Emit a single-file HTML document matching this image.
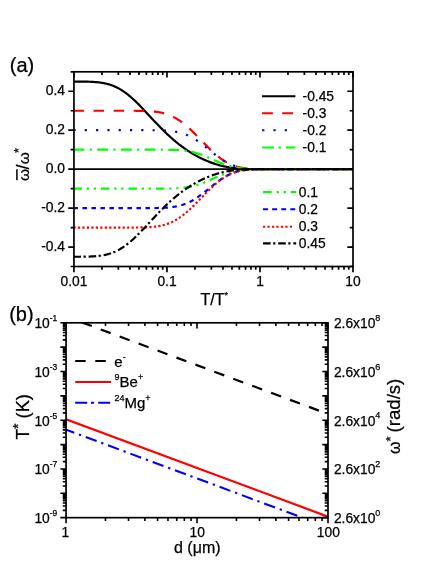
<!DOCTYPE html>
<html><head><meta charset="utf-8"><title>figure</title>
<style>html,body{margin:0;padding:0;background:#fff}svg{display:block;will-change:transform;transform:translateZ(0)}text{font-family:"Liberation Sans", sans-serif;fill:#000;stroke:#000;stroke-width:0.25px}</style></head><body>
<svg width="436" height="564" viewBox="0 0 436 564">
<rect width="436" height="564" fill="#fff"/>
<clipPath id="ca"><rect x="73.95" y="71.8" width="279.05" height="194.7"/></clipPath>
<g clip-path="url(#ca)" fill="none">
<path d="M73.95,81.54 L74.65,81.55 L75.35,81.55 L76.04,81.55 L76.74,81.55 L77.44,81.56 L78.14,81.56 L78.83,81.56 L79.53,81.57 L80.23,81.57 L80.93,81.58 L81.62,81.58 L82.32,81.59 L83.02,81.60 L83.72,81.61 L84.41,81.62 L85.11,81.63 L85.81,81.65 L86.51,81.66 L87.20,81.68 L87.90,81.70 L88.60,81.72 L89.30,81.74 L90.00,81.77 L90.69,81.80 L91.39,81.83 L92.09,81.86 L92.79,81.90 L93.48,81.94 L94.18,81.99 L94.88,82.04 L95.58,82.09 L96.27,82.15 L96.97,82.21 L97.67,82.28 L98.37,82.36 L99.06,82.44 L99.76,82.52 L100.46,82.62 L101.16,82.72 L101.86,82.82 L102.55,82.94 L103.25,83.06 L103.95,83.19 L104.65,83.33 L105.34,83.48 L106.04,83.64 L106.74,83.80 L107.44,83.98 L108.13,84.17 L108.83,84.36 L109.53,84.57 L110.23,84.79 L110.92,85.02 L111.62,85.27 L112.32,85.52 L113.02,85.79 L113.71,86.07 L114.41,86.36 L115.11,86.66 L115.81,86.98 L116.51,87.31 L117.20,87.66 L117.90,88.01 L118.60,88.39 L119.30,88.77 L119.99,89.17 L120.69,89.58 L121.39,90.01 L122.09,90.45 L122.78,90.90 L123.48,91.36 L124.18,91.84 L124.88,92.34 L125.57,92.84 L126.27,93.36 L126.97,93.89 L127.67,94.44 L128.36,94.99 L129.06,95.56 L129.76,96.14 L130.46,96.73 L131.16,97.34 L131.85,97.95 L132.55,98.58 L133.25,99.21 L133.95,99.86 L134.64,100.51 L135.34,101.17 L136.04,101.84 L136.74,102.52 L137.43,103.21 L138.13,103.90 L138.83,104.61 L139.53,105.31 L140.22,106.03 L140.92,106.75 L141.62,107.47 L142.32,108.20 L143.01,108.93 L143.71,109.67 L144.41,110.41 L145.11,111.16 L145.81,111.90 L146.50,112.65 L147.20,113.40 L147.90,114.15 L148.60,114.90 L149.29,115.66 L149.99,116.41 L150.69,117.16 L151.39,117.91 L152.08,118.67 L152.78,119.41 L153.48,120.16 L154.18,120.91 L154.87,121.65 L155.57,122.39 L156.27,123.13 L156.97,123.86 L157.66,124.59 L158.36,125.32 L159.06,126.05 L159.76,126.76 L160.46,127.48 L161.15,128.19 L161.85,128.89 L162.55,129.59 L163.25,130.29 L163.94,130.98 L164.64,131.66 L165.34,132.34 L166.04,133.01 L166.73,133.68 L167.43,134.34 L168.13,134.99 L168.83,135.64 L169.52,136.28 L170.22,136.91 L170.92,137.54 L171.62,138.16 L172.32,138.78 L173.01,139.39 L173.71,139.99 L174.41,140.58 L175.11,141.17 L175.80,141.75 L176.50,142.32 L177.20,142.89 L177.90,143.45 L178.59,144.00 L179.29,144.55 L179.99,145.09 L180.69,145.62 L181.38,146.15 L182.08,146.66 L182.78,147.18 L183.48,147.68 L184.17,148.18 L184.87,148.67 L185.57,149.15 L186.27,149.63 L186.97,150.10 L187.66,150.56 L188.36,151.02 L189.06,151.47 L189.76,151.92 L190.45,152.35 L191.15,152.79 L191.85,153.21 L192.55,153.63 L193.24,154.04 L193.94,154.45 L194.64,154.85 L195.34,155.24 L196.03,155.63 L196.73,156.01 L197.43,156.38 L198.13,156.75 L198.82,157.12 L199.52,157.47 L200.22,157.82 L200.92,158.17 L201.62,158.51 L202.31,158.84 L203.01,159.17 L203.71,159.49 L204.41,159.81 L205.10,160.12 L205.80,160.42 L206.50,160.72 L207.20,161.02 L207.89,161.30 L208.59,161.58 L209.29,161.86 L209.99,162.13 L210.68,162.39 L211.38,162.65 L212.08,162.91 L212.78,163.15 L213.48,163.40 L214.17,163.63 L214.87,163.86 L215.57,164.09 L216.27,164.31 L216.96,164.52 L217.66,164.73 L218.36,164.93 L219.06,165.12 L219.75,165.32 L220.45,165.50 L221.15,165.68 L221.85,165.85 L222.54,166.02 L223.24,166.18 L223.94,166.34 L224.64,166.49 L225.33,166.64 L226.03,166.78 L226.73,166.92 L227.43,167.05 L228.13,167.17 L228.82,167.29 L229.52,167.41 L230.22,167.52 L230.92,167.62 L231.61,167.72 L232.31,167.82 L233.01,167.91 L233.71,167.99 L234.40,168.08 L235.10,168.15 L235.80,168.23 L236.50,168.30 L237.19,168.36 L237.89,168.42 L238.59,168.48 L239.29,168.53 L239.98,168.59 L240.68,168.63 L241.38,168.68 L242.08,168.72 L242.78,168.76 L243.47,168.79 L244.17,168.83 L244.87,168.86 L245.57,168.88 L246.26,168.91 L246.96,168.93 L247.66,168.96 L248.36,168.98 L249.05,169.00 L249.75,169.01 L250.45,169.03 L251.15,169.04 L251.84,169.05 L252.54,169.06 L253.24,169.07 L253.94,169.08 L254.63,169.09 L255.33,169.10 L256.03,169.11 L256.73,169.11 L257.43,169.12 L258.12,169.12 L258.82,169.12 L259.52,169.13 L260.22,169.13 L260.91,169.13 L261.61,169.14 L262.31,169.14 L263.01,169.14 L263.70,169.14 L264.40,169.14 L265.10,169.14 L265.80,169.15 L266.49,169.15 L267.19,169.15 L267.89,169.15 L268.59,169.15 L269.29,169.15 L269.98,169.15 L270.68,169.15 L271.38,169.15 L272.08,169.15 L272.77,169.15 L273.47,169.15 L274.17,169.15 L274.87,169.15 L275.56,169.15 L276.26,169.15 L276.96,169.15 L277.66,169.15 L278.35,169.15 L279.05,169.15 L279.75,169.15 L280.45,169.15 L281.14,169.15 L281.84,169.15 L282.54,169.15 L283.24,169.15 L283.94,169.15 L284.63,169.15 L285.33,169.15 L286.03,169.15 L286.73,169.15 L287.42,169.15 L288.12,169.15 L288.82,169.15 L289.52,169.15 L290.21,169.15 L290.91,169.15 L291.61,169.15 L292.31,169.15 L293.00,169.15 L293.70,169.15 L294.40,169.15 L295.10,169.15 L295.79,169.15 L296.49,169.15 L297.19,169.15 L297.89,169.15 L298.59,169.15 L299.28,169.15 L299.98,169.15 L300.68,169.15 L301.38,169.15 L302.07,169.15 L302.77,169.15 L303.47,169.15 L304.17,169.15 L304.86,169.15 L305.56,169.15 L306.26,169.15 L306.96,169.15 L307.65,169.15 L308.35,169.15 L309.05,169.15 L309.75,169.15 L310.44,169.15 L311.14,169.15 L311.84,169.15 L312.54,169.15 L313.24,169.15 L313.93,169.15 L314.63,169.15 L315.33,169.15 L316.03,169.15 L316.72,169.15 L317.42,169.15 L318.12,169.15 L318.82,169.15 L319.51,169.15 L320.21,169.15 L320.91,169.15 L321.61,169.15 L322.30,169.15 L323.00,169.15 L323.70,169.15 L324.40,169.15 L325.10,169.15 L325.79,169.15 L326.49,169.15 L327.19,169.15 L327.89,169.15 L328.58,169.15 L329.28,169.15 L329.98,169.15 L330.68,169.15 L331.37,169.15 L332.07,169.15 L332.77,169.15 L333.47,169.15 L334.16,169.15 L334.86,169.15 L335.56,169.15 L336.26,169.15 L336.95,169.15 L337.65,169.15 L338.35,169.15 L339.05,169.15 L339.75,169.15 L340.44,169.15 L341.14,169.15 L341.84,169.15 L342.54,169.15 L343.23,169.15 L343.93,169.15 L344.63,169.15 L345.33,169.15 L346.02,169.15 L346.72,169.15 L347.42,169.15 L348.12,169.15 L348.81,169.15 L349.51,169.15 L350.21,169.15 L350.91,169.15 L351.60,169.15 L352.30,169.15 L353.00,169.15" stroke="#000" stroke-width="2.2" stroke-dashoffset="0.5"/>
<path d="M73.95,110.74 L74.65,110.74 L75.35,110.74 L76.04,110.74 L76.74,110.74 L77.44,110.74 L78.14,110.74 L78.83,110.74 L79.53,110.74 L80.23,110.74 L80.93,110.74 L81.62,110.74 L82.32,110.74 L83.02,110.74 L83.72,110.74 L84.41,110.74 L85.11,110.74 L85.81,110.74 L86.51,110.74 L87.20,110.74 L87.90,110.74 L88.60,110.74 L89.30,110.74 L90.00,110.74 L90.69,110.74 L91.39,110.74 L92.09,110.74 L92.79,110.74 L93.48,110.74 L94.18,110.74 L94.88,110.74 L95.58,110.74 L96.27,110.74 L96.97,110.74 L97.67,110.74 L98.37,110.74 L99.06,110.74 L99.76,110.74 L100.46,110.74 L101.16,110.74 L101.86,110.74 L102.55,110.74 L103.25,110.74 L103.95,110.74 L104.65,110.74 L105.34,110.74 L106.04,110.74 L106.74,110.74 L107.44,110.74 L108.13,110.74 L108.83,110.74 L109.53,110.74 L110.23,110.74 L110.92,110.74 L111.62,110.74 L112.32,110.74 L113.02,110.74 L113.71,110.74 L114.41,110.74 L115.11,110.74 L115.81,110.74 L116.51,110.74 L117.20,110.74 L117.90,110.74 L118.60,110.74 L119.30,110.74 L119.99,110.74 L120.69,110.74 L121.39,110.74 L122.09,110.74 L122.78,110.74 L123.48,110.74 L124.18,110.74 L124.88,110.74 L125.57,110.74 L126.27,110.74 L126.97,110.74 L127.67,110.74 L128.36,110.75 L129.06,110.75 L129.76,110.75 L130.46,110.75 L131.16,110.75 L131.85,110.75 L132.55,110.76 L133.25,110.76 L133.95,110.76 L134.64,110.77 L135.34,110.77 L136.04,110.78 L136.74,110.78 L137.43,110.79 L138.13,110.80 L138.83,110.80 L139.53,110.81 L140.22,110.82 L140.92,110.84 L141.62,110.85 L142.32,110.86 L143.01,110.88 L143.71,110.90 L144.41,110.92 L145.11,110.94 L145.81,110.97 L146.50,110.99 L147.20,111.03 L147.90,111.06 L148.60,111.10 L149.29,111.14 L149.99,111.18 L150.69,111.23 L151.39,111.28 L152.08,111.34 L152.78,111.40 L153.48,111.47 L154.18,111.54 L154.87,111.62 L155.57,111.70 L156.27,111.79 L156.97,111.89 L157.66,112.00 L158.36,112.11 L159.06,112.23 L159.76,112.36 L160.46,112.50 L161.15,112.64 L161.85,112.80 L162.55,112.96 L163.25,113.13 L163.94,113.32 L164.64,113.51 L165.34,113.72 L166.04,113.94 L166.73,114.16 L167.43,114.40 L168.13,114.65 L168.83,114.92 L169.52,115.19 L170.22,115.48 L170.92,115.78 L171.62,116.10 L172.32,116.42 L173.01,116.77 L173.71,117.12 L174.41,117.49 L175.11,117.87 L175.80,118.26 L176.50,118.67 L177.20,119.09 L177.90,119.53 L178.59,119.98 L179.29,120.44 L179.99,120.91 L180.69,121.40 L181.38,121.91 L182.08,122.42 L182.78,122.95 L183.48,123.49 L184.17,124.04 L184.87,124.60 L185.57,125.18 L186.27,125.77 L186.97,126.37 L187.66,126.97 L188.36,127.59 L189.06,128.22 L189.76,128.86 L190.45,129.51 L191.15,130.16 L191.85,130.83 L192.55,131.50 L193.24,132.18 L193.94,132.87 L194.64,133.56 L195.34,134.25 L196.03,134.96 L196.73,135.66 L197.43,136.37 L198.13,137.09 L198.82,137.81 L199.52,138.53 L200.22,139.25 L200.92,139.97 L201.62,140.69 L202.31,141.41 L203.01,142.13 L203.71,142.85 L204.41,143.57 L205.10,144.29 L205.80,145.00 L206.50,145.71 L207.20,146.41 L207.89,147.11 L208.59,147.81 L209.29,148.50 L209.99,149.18 L210.68,149.85 L211.38,150.52 L212.08,151.18 L212.78,151.83 L213.48,152.47 L214.17,153.10 L214.87,153.72 L215.57,154.33 L216.27,154.93 L216.96,155.52 L217.66,156.09 L218.36,156.66 L219.06,157.21 L219.75,157.75 L220.45,158.28 L221.15,158.79 L221.85,159.29 L222.54,159.77 L223.24,160.24 L223.94,160.70 L224.64,161.15 L225.33,161.57 L226.03,161.99 L226.73,162.39 L227.43,162.78 L228.13,163.15 L228.82,163.51 L229.52,163.85 L230.22,164.18 L230.92,164.49 L231.61,164.79 L232.31,165.08 L233.01,165.36 L233.71,165.62 L234.40,165.86 L235.10,166.10 L235.80,166.32 L236.50,166.53 L237.19,166.73 L237.89,166.92 L238.59,167.10 L239.29,167.26 L239.98,167.42 L240.68,167.56 L241.38,167.70 L242.08,167.83 L242.78,167.94 L243.47,168.05 L244.17,168.15 L244.87,168.25 L245.57,168.33 L246.26,168.41 L246.96,168.49 L247.66,168.56 L248.36,168.62 L249.05,168.67 L249.75,168.72 L250.45,168.77 L251.15,168.81 L251.84,168.85 L252.54,168.89 L253.24,168.92 L253.94,168.95 L254.63,168.97 L255.33,168.99 L256.03,169.01 L256.73,169.03 L257.43,169.05 L258.12,169.06 L258.82,169.07 L259.52,169.08 L260.22,169.09 L260.91,169.10 L261.61,169.11 L262.31,169.11 L263.01,169.12 L263.70,169.12 L264.40,169.13 L265.10,169.13 L265.80,169.13 L266.49,169.14 L267.19,169.14 L267.89,169.14 L268.59,169.14 L269.29,169.14 L269.98,169.15 L270.68,169.15 L271.38,169.15 L272.08,169.15 L272.77,169.15 L273.47,169.15 L274.17,169.15 L274.87,169.15 L275.56,169.15 L276.26,169.15 L276.96,169.15 L277.66,169.15 L278.35,169.15 L279.05,169.15 L279.75,169.15 L280.45,169.15 L281.14,169.15 L281.84,169.15 L282.54,169.15 L283.24,169.15 L283.94,169.15 L284.63,169.15 L285.33,169.15 L286.03,169.15 L286.73,169.15 L287.42,169.15 L288.12,169.15 L288.82,169.15 L289.52,169.15 L290.21,169.15 L290.91,169.15 L291.61,169.15 L292.31,169.15 L293.00,169.15 L293.70,169.15 L294.40,169.15 L295.10,169.15 L295.79,169.15 L296.49,169.15 L297.19,169.15 L297.89,169.15 L298.59,169.15 L299.28,169.15 L299.98,169.15 L300.68,169.15 L301.38,169.15 L302.07,169.15 L302.77,169.15 L303.47,169.15 L304.17,169.15 L304.86,169.15 L305.56,169.15 L306.26,169.15 L306.96,169.15 L307.65,169.15 L308.35,169.15 L309.05,169.15 L309.75,169.15 L310.44,169.15 L311.14,169.15 L311.84,169.15 L312.54,169.15 L313.24,169.15 L313.93,169.15 L314.63,169.15 L315.33,169.15 L316.03,169.15 L316.72,169.15 L317.42,169.15 L318.12,169.15 L318.82,169.15 L319.51,169.15 L320.21,169.15 L320.91,169.15 L321.61,169.15 L322.30,169.15 L323.00,169.15 L323.70,169.15 L324.40,169.15 L325.10,169.15 L325.79,169.15 L326.49,169.15 L327.19,169.15 L327.89,169.15 L328.58,169.15 L329.28,169.15 L329.98,169.15 L330.68,169.15 L331.37,169.15 L332.07,169.15 L332.77,169.15 L333.47,169.15 L334.16,169.15 L334.86,169.15 L335.56,169.15 L336.26,169.15 L336.95,169.15 L337.65,169.15 L338.35,169.15 L339.05,169.15 L339.75,169.15 L340.44,169.15 L341.14,169.15 L341.84,169.15 L342.54,169.15 L343.23,169.15 L343.93,169.15 L344.63,169.15 L345.33,169.15 L346.02,169.15 L346.72,169.15 L347.42,169.15 L348.12,169.15 L348.81,169.15 L349.51,169.15 L350.21,169.15 L350.91,169.15 L351.60,169.15 L352.30,169.15 L353.00,169.15" stroke="#f00" stroke-width="2.2" stroke-dasharray="10.5 9.6" stroke-dashoffset="0.5"/>
<path d="M73.95,130.21 L74.65,130.21 L75.35,130.21 L76.04,130.21 L76.74,130.21 L77.44,130.21 L78.14,130.21 L78.83,130.21 L79.53,130.21 L80.23,130.21 L80.93,130.21 L81.62,130.21 L82.32,130.21 L83.02,130.21 L83.72,130.21 L84.41,130.21 L85.11,130.21 L85.81,130.21 L86.51,130.21 L87.20,130.21 L87.90,130.21 L88.60,130.21 L89.30,130.21 L90.00,130.21 L90.69,130.21 L91.39,130.21 L92.09,130.21 L92.79,130.21 L93.48,130.21 L94.18,130.21 L94.88,130.21 L95.58,130.21 L96.27,130.21 L96.97,130.21 L97.67,130.21 L98.37,130.21 L99.06,130.21 L99.76,130.21 L100.46,130.21 L101.16,130.21 L101.86,130.21 L102.55,130.21 L103.25,130.21 L103.95,130.21 L104.65,130.21 L105.34,130.21 L106.04,130.21 L106.74,130.21 L107.44,130.21 L108.13,130.21 L108.83,130.21 L109.53,130.21 L110.23,130.21 L110.92,130.21 L111.62,130.21 L112.32,130.21 L113.02,130.21 L113.71,130.21 L114.41,130.21 L115.11,130.21 L115.81,130.21 L116.51,130.21 L117.20,130.21 L117.90,130.21 L118.60,130.21 L119.30,130.21 L119.99,130.21 L120.69,130.21 L121.39,130.21 L122.09,130.21 L122.78,130.21 L123.48,130.21 L124.18,130.21 L124.88,130.21 L125.57,130.21 L126.27,130.21 L126.97,130.21 L127.67,130.21 L128.36,130.21 L129.06,130.21 L129.76,130.21 L130.46,130.21 L131.16,130.21 L131.85,130.21 L132.55,130.21 L133.25,130.21 L133.95,130.21 L134.64,130.21 L135.34,130.21 L136.04,130.21 L136.74,130.21 L137.43,130.21 L138.13,130.21 L138.83,130.21 L139.53,130.21 L140.22,130.21 L140.92,130.21 L141.62,130.21 L142.32,130.21 L143.01,130.21 L143.71,130.21 L144.41,130.22 L145.11,130.22 L145.81,130.22 L146.50,130.22 L147.20,130.22 L147.90,130.22 L148.60,130.23 L149.29,130.23 L149.99,130.23 L150.69,130.23 L151.39,130.24 L152.08,130.24 L152.78,130.25 L153.48,130.25 L154.18,130.26 L154.87,130.27 L155.57,130.28 L156.27,130.29 L156.97,130.30 L157.66,130.31 L158.36,130.33 L159.06,130.34 L159.76,130.36 L160.46,130.38 L161.15,130.40 L161.85,130.42 L162.55,130.45 L163.25,130.48 L163.94,130.51 L164.64,130.55 L165.34,130.59 L166.04,130.63 L166.73,130.67 L167.43,130.73 L168.13,130.78 L168.83,130.84 L169.52,130.90 L170.22,130.97 L170.92,131.05 L171.62,131.13 L172.32,131.22 L173.01,131.31 L173.71,131.42 L174.41,131.52 L175.11,131.64 L175.80,131.76 L176.50,131.90 L177.20,132.04 L177.90,132.19 L178.59,132.35 L179.29,132.51 L179.99,132.69 L180.69,132.88 L181.38,133.08 L182.08,133.29 L182.78,133.51 L183.48,133.74 L184.17,133.98 L184.87,134.24 L185.57,134.50 L186.27,134.78 L186.97,135.07 L187.66,135.37 L188.36,135.69 L189.06,136.01 L189.76,136.35 L190.45,136.70 L191.15,137.07 L191.85,137.44 L192.55,137.83 L193.24,138.23 L193.94,138.64 L194.64,139.06 L195.34,139.50 L196.03,139.94 L196.73,140.40 L197.43,140.87 L198.13,141.35 L198.82,141.83 L199.52,142.33 L200.22,142.83 L200.92,143.35 L201.62,143.87 L202.31,144.40 L203.01,144.94 L203.71,145.48 L204.41,146.03 L205.10,146.58 L205.80,147.14 L206.50,147.70 L207.20,148.26 L207.89,148.83 L208.59,149.39 L209.29,149.96 L209.99,150.53 L210.68,151.10 L211.38,151.66 L212.08,152.23 L212.78,152.79 L213.48,153.35 L214.17,153.90 L214.87,154.45 L215.57,155.00 L216.27,155.54 L216.96,156.07 L217.66,156.59 L218.36,157.11 L219.06,157.61 L219.75,158.11 L220.45,158.60 L221.15,159.08 L221.85,159.55 L222.54,160.00 L223.24,160.45 L223.94,160.88 L224.64,161.31 L225.33,161.72 L226.03,162.11 L226.73,162.50 L227.43,162.87 L228.13,163.23 L228.82,163.58 L229.52,163.91 L230.22,164.23 L230.92,164.54 L231.61,164.83 L232.31,165.12 L233.01,165.38 L233.71,165.64 L234.40,165.89 L235.10,166.12 L235.80,166.34 L236.50,166.55 L237.19,166.74 L237.89,166.93 L238.59,167.10 L239.29,167.27 L239.98,167.42 L240.68,167.57 L241.38,167.70 L242.08,167.83 L242.78,167.95 L243.47,168.05 L244.17,168.16 L244.87,168.25 L245.57,168.34 L246.26,168.42 L246.96,168.49 L247.66,168.56 L248.36,168.62 L249.05,168.67 L249.75,168.73 L250.45,168.77 L251.15,168.81 L251.84,168.85 L252.54,168.89 L253.24,168.92 L253.94,168.95 L254.63,168.97 L255.33,168.99 L256.03,169.01 L256.73,169.03 L257.43,169.05 L258.12,169.06 L258.82,169.07 L259.52,169.08 L260.22,169.09 L260.91,169.10 L261.61,169.11 L262.31,169.11 L263.01,169.12 L263.70,169.12 L264.40,169.13 L265.10,169.13 L265.80,169.13 L266.49,169.14 L267.19,169.14 L267.89,169.14 L268.59,169.14 L269.29,169.14 L269.98,169.15 L270.68,169.15 L271.38,169.15 L272.08,169.15 L272.77,169.15 L273.47,169.15 L274.17,169.15 L274.87,169.15 L275.56,169.15 L276.26,169.15 L276.96,169.15 L277.66,169.15 L278.35,169.15 L279.05,169.15 L279.75,169.15 L280.45,169.15 L281.14,169.15 L281.84,169.15 L282.54,169.15 L283.24,169.15 L283.94,169.15 L284.63,169.15 L285.33,169.15 L286.03,169.15 L286.73,169.15 L287.42,169.15 L288.12,169.15 L288.82,169.15 L289.52,169.15 L290.21,169.15 L290.91,169.15 L291.61,169.15 L292.31,169.15 L293.00,169.15 L293.70,169.15 L294.40,169.15 L295.10,169.15 L295.79,169.15 L296.49,169.15 L297.19,169.15 L297.89,169.15 L298.59,169.15 L299.28,169.15 L299.98,169.15 L300.68,169.15 L301.38,169.15 L302.07,169.15 L302.77,169.15 L303.47,169.15 L304.17,169.15 L304.86,169.15 L305.56,169.15 L306.26,169.15 L306.96,169.15 L307.65,169.15 L308.35,169.15 L309.05,169.15 L309.75,169.15 L310.44,169.15 L311.14,169.15 L311.84,169.15 L312.54,169.15 L313.24,169.15 L313.93,169.15 L314.63,169.15 L315.33,169.15 L316.03,169.15 L316.72,169.15 L317.42,169.15 L318.12,169.15 L318.82,169.15 L319.51,169.15 L320.21,169.15 L320.91,169.15 L321.61,169.15 L322.30,169.15 L323.00,169.15 L323.70,169.15 L324.40,169.15 L325.10,169.15 L325.79,169.15 L326.49,169.15 L327.19,169.15 L327.89,169.15 L328.58,169.15 L329.28,169.15 L329.98,169.15 L330.68,169.15 L331.37,169.15 L332.07,169.15 L332.77,169.15 L333.47,169.15 L334.16,169.15 L334.86,169.15 L335.56,169.15 L336.26,169.15 L336.95,169.15 L337.65,169.15 L338.35,169.15 L339.05,169.15 L339.75,169.15 L340.44,169.15 L341.14,169.15 L341.84,169.15 L342.54,169.15 L343.23,169.15 L343.93,169.15 L344.63,169.15 L345.33,169.15 L346.02,169.15 L346.72,169.15 L347.42,169.15 L348.12,169.15 L348.81,169.15 L349.51,169.15 L350.21,169.15 L350.91,169.15 L351.60,169.15 L352.30,169.15 L353.00,169.15" stroke="#00f" stroke-width="2.2" stroke-dasharray="2.2 9.1" stroke-dashoffset="0.5"/>
<path d="M73.95,149.68 L74.65,149.68 L75.35,149.68 L76.04,149.68 L76.74,149.68 L77.44,149.68 L78.14,149.68 L78.83,149.68 L79.53,149.68 L80.23,149.68 L80.93,149.68 L81.62,149.68 L82.32,149.68 L83.02,149.68 L83.72,149.68 L84.41,149.68 L85.11,149.68 L85.81,149.68 L86.51,149.68 L87.20,149.68 L87.90,149.68 L88.60,149.68 L89.30,149.68 L90.00,149.68 L90.69,149.68 L91.39,149.68 L92.09,149.68 L92.79,149.68 L93.48,149.68 L94.18,149.68 L94.88,149.68 L95.58,149.68 L96.27,149.68 L96.97,149.68 L97.67,149.68 L98.37,149.68 L99.06,149.68 L99.76,149.68 L100.46,149.68 L101.16,149.68 L101.86,149.68 L102.55,149.68 L103.25,149.68 L103.95,149.68 L104.65,149.68 L105.34,149.68 L106.04,149.68 L106.74,149.68 L107.44,149.68 L108.13,149.68 L108.83,149.68 L109.53,149.68 L110.23,149.68 L110.92,149.68 L111.62,149.68 L112.32,149.68 L113.02,149.68 L113.71,149.68 L114.41,149.68 L115.11,149.68 L115.81,149.68 L116.51,149.68 L117.20,149.68 L117.90,149.68 L118.60,149.68 L119.30,149.68 L119.99,149.68 L120.69,149.68 L121.39,149.68 L122.09,149.68 L122.78,149.68 L123.48,149.68 L124.18,149.68 L124.88,149.68 L125.57,149.68 L126.27,149.68 L126.97,149.68 L127.67,149.68 L128.36,149.68 L129.06,149.68 L129.76,149.68 L130.46,149.68 L131.16,149.68 L131.85,149.68 L132.55,149.68 L133.25,149.68 L133.95,149.68 L134.64,149.68 L135.34,149.68 L136.04,149.68 L136.74,149.68 L137.43,149.68 L138.13,149.68 L138.83,149.68 L139.53,149.68 L140.22,149.68 L140.92,149.68 L141.62,149.68 L142.32,149.68 L143.01,149.68 L143.71,149.68 L144.41,149.68 L145.11,149.68 L145.81,149.68 L146.50,149.68 L147.20,149.68 L147.90,149.68 L148.60,149.68 L149.29,149.68 L149.99,149.68 L150.69,149.68 L151.39,149.68 L152.08,149.68 L152.78,149.68 L153.48,149.68 L154.18,149.68 L154.87,149.68 L155.57,149.68 L156.27,149.69 L156.97,149.69 L157.66,149.69 L158.36,149.69 L159.06,149.69 L159.76,149.69 L160.46,149.70 L161.15,149.70 L161.85,149.70 L162.55,149.71 L163.25,149.71 L163.94,149.71 L164.64,149.72 L165.34,149.73 L166.04,149.73 L166.73,149.74 L167.43,149.75 L168.13,149.76 L168.83,149.77 L169.52,149.78 L170.22,149.80 L170.92,149.81 L171.62,149.83 L172.32,149.85 L173.01,149.87 L173.71,149.90 L174.41,149.92 L175.11,149.95 L175.80,149.98 L176.50,150.02 L177.20,150.05 L177.90,150.09 L178.59,150.14 L179.29,150.19 L179.99,150.24 L180.69,150.29 L181.38,150.35 L182.08,150.42 L182.78,150.49 L183.48,150.56 L184.17,150.65 L184.87,150.73 L185.57,150.82 L186.27,150.92 L186.97,151.02 L187.66,151.13 L188.36,151.25 L189.06,151.37 L189.76,151.50 L190.45,151.64 L191.15,151.78 L191.85,151.94 L192.55,152.09 L193.24,152.26 L193.94,152.43 L194.64,152.61 L195.34,152.80 L196.03,153.00 L196.73,153.20 L197.43,153.41 L198.13,153.63 L198.82,153.85 L199.52,154.08 L200.22,154.32 L200.92,154.57 L201.62,154.82 L202.31,155.08 L203.01,155.34 L203.71,155.61 L204.41,155.89 L205.10,156.17 L205.80,156.45 L206.50,156.74 L207.20,157.03 L207.89,157.33 L208.59,157.63 L209.29,157.93 L209.99,158.24 L210.68,158.55 L211.38,158.86 L212.08,159.17 L212.78,159.48 L213.48,159.79 L214.17,160.09 L214.87,160.40 L215.57,160.71 L216.27,161.02 L216.96,161.32 L217.66,161.62 L218.36,161.92 L219.06,162.21 L219.75,162.50 L220.45,162.78 L221.15,163.06 L221.85,163.34 L222.54,163.61 L223.24,163.87 L223.94,164.13 L224.64,164.38 L225.33,164.62 L226.03,164.86 L226.73,165.09 L227.43,165.32 L228.13,165.53 L228.82,165.74 L229.52,165.94 L230.22,166.14 L230.92,166.32 L231.61,166.50 L232.31,166.67 L233.01,166.84 L233.71,166.99 L234.40,167.14 L235.10,167.28 L235.80,167.42 L236.50,167.55 L237.19,167.67 L237.89,167.78 L238.59,167.89 L239.29,167.99 L239.98,168.08 L240.68,168.17 L241.38,168.26 L242.08,168.33 L242.78,168.41 L243.47,168.47 L244.17,168.54 L244.87,168.59 L245.57,168.65 L246.26,168.70 L246.96,168.74 L247.66,168.78 L248.36,168.82 L249.05,168.86 L249.75,168.89 L250.45,168.92 L251.15,168.94 L251.84,168.97 L252.54,168.99 L253.24,169.01 L253.94,169.02 L254.63,169.04 L255.33,169.05 L256.03,169.07 L256.73,169.08 L257.43,169.09 L258.12,169.09 L258.82,169.10 L259.52,169.11 L260.22,169.11 L260.91,169.12 L261.61,169.12 L262.31,169.13 L263.01,169.13 L263.70,169.13 L264.40,169.14 L265.10,169.14 L265.80,169.14 L266.49,169.14 L267.19,169.14 L267.89,169.14 L268.59,169.15 L269.29,169.15 L269.98,169.15 L270.68,169.15 L271.38,169.15 L272.08,169.15 L272.77,169.15 L273.47,169.15 L274.17,169.15 L274.87,169.15 L275.56,169.15 L276.26,169.15 L276.96,169.15 L277.66,169.15 L278.35,169.15 L279.05,169.15 L279.75,169.15 L280.45,169.15 L281.14,169.15 L281.84,169.15 L282.54,169.15 L283.24,169.15 L283.94,169.15 L284.63,169.15 L285.33,169.15 L286.03,169.15 L286.73,169.15 L287.42,169.15 L288.12,169.15 L288.82,169.15 L289.52,169.15 L290.21,169.15 L290.91,169.15 L291.61,169.15 L292.31,169.15 L293.00,169.15 L293.70,169.15 L294.40,169.15 L295.10,169.15 L295.79,169.15 L296.49,169.15 L297.19,169.15 L297.89,169.15 L298.59,169.15 L299.28,169.15 L299.98,169.15 L300.68,169.15 L301.38,169.15 L302.07,169.15 L302.77,169.15 L303.47,169.15 L304.17,169.15 L304.86,169.15 L305.56,169.15 L306.26,169.15 L306.96,169.15 L307.65,169.15 L308.35,169.15 L309.05,169.15 L309.75,169.15 L310.44,169.15 L311.14,169.15 L311.84,169.15 L312.54,169.15 L313.24,169.15 L313.93,169.15 L314.63,169.15 L315.33,169.15 L316.03,169.15 L316.72,169.15 L317.42,169.15 L318.12,169.15 L318.82,169.15 L319.51,169.15 L320.21,169.15 L320.91,169.15 L321.61,169.15 L322.30,169.15 L323.00,169.15 L323.70,169.15 L324.40,169.15 L325.10,169.15 L325.79,169.15 L326.49,169.15 L327.19,169.15 L327.89,169.15 L328.58,169.15 L329.28,169.15 L329.98,169.15 L330.68,169.15 L331.37,169.15 L332.07,169.15 L332.77,169.15 L333.47,169.15 L334.16,169.15 L334.86,169.15 L335.56,169.15 L336.26,169.15 L336.95,169.15 L337.65,169.15 L338.35,169.15 L339.05,169.15 L339.75,169.15 L340.44,169.15 L341.14,169.15 L341.84,169.15 L342.54,169.15 L343.23,169.15 L343.93,169.15 L344.63,169.15 L345.33,169.15 L346.02,169.15 L346.72,169.15 L347.42,169.15 L348.12,169.15 L348.81,169.15 L349.51,169.15 L350.21,169.15 L350.91,169.15 L351.60,169.15 L352.30,169.15 L353.00,169.15" stroke="#0f0" stroke-width="2.2" stroke-dasharray="11 5.3 2.1 5.3" stroke-dashoffset="0.5"/>
<path d="M73.95,188.62 L74.65,188.62 L75.35,188.62 L76.04,188.62 L76.74,188.62 L77.44,188.62 L78.14,188.62 L78.83,188.62 L79.53,188.62 L80.23,188.62 L80.93,188.62 L81.62,188.62 L82.32,188.62 L83.02,188.62 L83.72,188.62 L84.41,188.62 L85.11,188.62 L85.81,188.62 L86.51,188.62 L87.20,188.62 L87.90,188.62 L88.60,188.62 L89.30,188.62 L90.00,188.62 L90.69,188.62 L91.39,188.62 L92.09,188.62 L92.79,188.62 L93.48,188.62 L94.18,188.62 L94.88,188.62 L95.58,188.62 L96.27,188.62 L96.97,188.62 L97.67,188.62 L98.37,188.62 L99.06,188.62 L99.76,188.62 L100.46,188.62 L101.16,188.62 L101.86,188.62 L102.55,188.62 L103.25,188.62 L103.95,188.62 L104.65,188.62 L105.34,188.62 L106.04,188.62 L106.74,188.62 L107.44,188.62 L108.13,188.62 L108.83,188.62 L109.53,188.62 L110.23,188.62 L110.92,188.62 L111.62,188.62 L112.32,188.62 L113.02,188.62 L113.71,188.62 L114.41,188.62 L115.11,188.62 L115.81,188.62 L116.51,188.62 L117.20,188.62 L117.90,188.62 L118.60,188.62 L119.30,188.62 L119.99,188.62 L120.69,188.62 L121.39,188.62 L122.09,188.62 L122.78,188.62 L123.48,188.62 L124.18,188.62 L124.88,188.62 L125.57,188.62 L126.27,188.62 L126.97,188.62 L127.67,188.62 L128.36,188.62 L129.06,188.62 L129.76,188.62 L130.46,188.62 L131.16,188.62 L131.85,188.62 L132.55,188.62 L133.25,188.62 L133.95,188.62 L134.64,188.62 L135.34,188.62 L136.04,188.62 L136.74,188.62 L137.43,188.62 L138.13,188.62 L138.83,188.62 L139.53,188.62 L140.22,188.62 L140.92,188.62 L141.62,188.62 L142.32,188.62 L143.01,188.62 L143.71,188.62 L144.41,188.62 L145.11,188.62 L145.81,188.62 L146.50,188.62 L147.20,188.62 L147.90,188.62 L148.60,188.62 L149.29,188.62 L149.99,188.62 L150.69,188.62 L151.39,188.62 L152.08,188.62 L152.78,188.62 L153.48,188.62 L154.18,188.62 L154.87,188.62 L155.57,188.62 L156.27,188.61 L156.97,188.61 L157.66,188.61 L158.36,188.61 L159.06,188.61 L159.76,188.61 L160.46,188.60 L161.15,188.60 L161.85,188.60 L162.55,188.59 L163.25,188.59 L163.94,188.59 L164.64,188.58 L165.34,188.57 L166.04,188.57 L166.73,188.56 L167.43,188.55 L168.13,188.54 L168.83,188.53 L169.52,188.52 L170.22,188.50 L170.92,188.49 L171.62,188.47 L172.32,188.45 L173.01,188.43 L173.71,188.40 L174.41,188.38 L175.11,188.35 L175.80,188.32 L176.50,188.28 L177.20,188.25 L177.90,188.21 L178.59,188.16 L179.29,188.11 L179.99,188.06 L180.69,188.01 L181.38,187.95 L182.08,187.88 L182.78,187.81 L183.48,187.74 L184.17,187.65 L184.87,187.57 L185.57,187.48 L186.27,187.38 L186.97,187.28 L187.66,187.17 L188.36,187.05 L189.06,186.93 L189.76,186.80 L190.45,186.66 L191.15,186.52 L191.85,186.36 L192.55,186.21 L193.24,186.04 L193.94,185.87 L194.64,185.69 L195.34,185.50 L196.03,185.30 L196.73,185.10 L197.43,184.89 L198.13,184.67 L198.82,184.45 L199.52,184.22 L200.22,183.98 L200.92,183.73 L201.62,183.48 L202.31,183.22 L203.01,182.96 L203.71,182.69 L204.41,182.41 L205.10,182.13 L205.80,181.85 L206.50,181.56 L207.20,181.27 L207.89,180.97 L208.59,180.67 L209.29,180.37 L209.99,180.06 L210.68,179.75 L211.38,179.44 L212.08,179.13 L212.78,178.82 L213.48,178.51 L214.17,178.21 L214.87,177.90 L215.57,177.59 L216.27,177.28 L216.96,176.98 L217.66,176.68 L218.36,176.38 L219.06,176.09 L219.75,175.80 L220.45,175.52 L221.15,175.24 L221.85,174.96 L222.54,174.69 L223.24,174.43 L223.94,174.17 L224.64,173.92 L225.33,173.68 L226.03,173.44 L226.73,173.21 L227.43,172.98 L228.13,172.77 L228.82,172.56 L229.52,172.36 L230.22,172.16 L230.92,171.98 L231.61,171.80 L232.31,171.63 L233.01,171.46 L233.71,171.31 L234.40,171.16 L235.10,171.02 L235.80,170.88 L236.50,170.75 L237.19,170.63 L237.89,170.52 L238.59,170.41 L239.29,170.31 L239.98,170.22 L240.68,170.13 L241.38,170.04 L242.08,169.97 L242.78,169.89 L243.47,169.83 L244.17,169.76 L244.87,169.71 L245.57,169.65 L246.26,169.60 L246.96,169.56 L247.66,169.52 L248.36,169.48 L249.05,169.44 L249.75,169.41 L250.45,169.38 L251.15,169.36 L251.84,169.33 L252.54,169.31 L253.24,169.29 L253.94,169.28 L254.63,169.26 L255.33,169.25 L256.03,169.23 L256.73,169.22 L257.43,169.21 L258.12,169.21 L258.82,169.20 L259.52,169.19 L260.22,169.19 L260.91,169.18 L261.61,169.18 L262.31,169.17 L263.01,169.17 L263.70,169.17 L264.40,169.16 L265.10,169.16 L265.80,169.16 L266.49,169.16 L267.19,169.16 L267.89,169.16 L268.59,169.15 L269.29,169.15 L269.98,169.15 L270.68,169.15 L271.38,169.15 L272.08,169.15 L272.77,169.15 L273.47,169.15 L274.17,169.15 L274.87,169.15 L275.56,169.15 L276.26,169.15 L276.96,169.15 L277.66,169.15 L278.35,169.15 L279.05,169.15 L279.75,169.15 L280.45,169.15 L281.14,169.15 L281.84,169.15 L282.54,169.15 L283.24,169.15 L283.94,169.15 L284.63,169.15 L285.33,169.15 L286.03,169.15 L286.73,169.15 L287.42,169.15 L288.12,169.15 L288.82,169.15 L289.52,169.15 L290.21,169.15 L290.91,169.15 L291.61,169.15 L292.31,169.15 L293.00,169.15 L293.70,169.15 L294.40,169.15 L295.10,169.15 L295.79,169.15 L296.49,169.15 L297.19,169.15 L297.89,169.15 L298.59,169.15 L299.28,169.15 L299.98,169.15 L300.68,169.15 L301.38,169.15 L302.07,169.15 L302.77,169.15 L303.47,169.15 L304.17,169.15 L304.86,169.15 L305.56,169.15 L306.26,169.15 L306.96,169.15 L307.65,169.15 L308.35,169.15 L309.05,169.15 L309.75,169.15 L310.44,169.15 L311.14,169.15 L311.84,169.15 L312.54,169.15 L313.24,169.15 L313.93,169.15 L314.63,169.15 L315.33,169.15 L316.03,169.15 L316.72,169.15 L317.42,169.15 L318.12,169.15 L318.82,169.15 L319.51,169.15 L320.21,169.15 L320.91,169.15 L321.61,169.15 L322.30,169.15 L323.00,169.15 L323.70,169.15 L324.40,169.15 L325.10,169.15 L325.79,169.15 L326.49,169.15 L327.19,169.15 L327.89,169.15 L328.58,169.15 L329.28,169.15 L329.98,169.15 L330.68,169.15 L331.37,169.15 L332.07,169.15 L332.77,169.15 L333.47,169.15 L334.16,169.15 L334.86,169.15 L335.56,169.15 L336.26,169.15 L336.95,169.15 L337.65,169.15 L338.35,169.15 L339.05,169.15 L339.75,169.15 L340.44,169.15 L341.14,169.15 L341.84,169.15 L342.54,169.15 L343.23,169.15 L343.93,169.15 L344.63,169.15 L345.33,169.15 L346.02,169.15 L346.72,169.15 L347.42,169.15 L348.12,169.15 L348.81,169.15 L349.51,169.15 L350.21,169.15 L350.91,169.15 L351.60,169.15 L352.30,169.15 L353.00,169.15" stroke="#0f0" stroke-width="2.2" stroke-dasharray="8.5 4.8 2.2 4.8 2.2 5.0" stroke-dashoffset="0.5"/>
<path d="M73.95,208.09 L74.65,208.09 L75.35,208.09 L76.04,208.09 L76.74,208.09 L77.44,208.09 L78.14,208.09 L78.83,208.09 L79.53,208.09 L80.23,208.09 L80.93,208.09 L81.62,208.09 L82.32,208.09 L83.02,208.09 L83.72,208.09 L84.41,208.09 L85.11,208.09 L85.81,208.09 L86.51,208.09 L87.20,208.09 L87.90,208.09 L88.60,208.09 L89.30,208.09 L90.00,208.09 L90.69,208.09 L91.39,208.09 L92.09,208.09 L92.79,208.09 L93.48,208.09 L94.18,208.09 L94.88,208.09 L95.58,208.09 L96.27,208.09 L96.97,208.09 L97.67,208.09 L98.37,208.09 L99.06,208.09 L99.76,208.09 L100.46,208.09 L101.16,208.09 L101.86,208.09 L102.55,208.09 L103.25,208.09 L103.95,208.09 L104.65,208.09 L105.34,208.09 L106.04,208.09 L106.74,208.09 L107.44,208.09 L108.13,208.09 L108.83,208.09 L109.53,208.09 L110.23,208.09 L110.92,208.09 L111.62,208.09 L112.32,208.09 L113.02,208.09 L113.71,208.09 L114.41,208.09 L115.11,208.09 L115.81,208.09 L116.51,208.09 L117.20,208.09 L117.90,208.09 L118.60,208.09 L119.30,208.09 L119.99,208.09 L120.69,208.09 L121.39,208.09 L122.09,208.09 L122.78,208.09 L123.48,208.09 L124.18,208.09 L124.88,208.09 L125.57,208.09 L126.27,208.09 L126.97,208.09 L127.67,208.09 L128.36,208.09 L129.06,208.09 L129.76,208.09 L130.46,208.09 L131.16,208.09 L131.85,208.09 L132.55,208.09 L133.25,208.09 L133.95,208.09 L134.64,208.09 L135.34,208.09 L136.04,208.09 L136.74,208.09 L137.43,208.09 L138.13,208.09 L138.83,208.09 L139.53,208.09 L140.22,208.09 L140.92,208.09 L141.62,208.09 L142.32,208.09 L143.01,208.09 L143.71,208.09 L144.41,208.08 L145.11,208.08 L145.81,208.08 L146.50,208.08 L147.20,208.08 L147.90,208.08 L148.60,208.07 L149.29,208.07 L149.99,208.07 L150.69,208.07 L151.39,208.06 L152.08,208.06 L152.78,208.05 L153.48,208.05 L154.18,208.04 L154.87,208.03 L155.57,208.02 L156.27,208.01 L156.97,208.00 L157.66,207.99 L158.36,207.97 L159.06,207.96 L159.76,207.94 L160.46,207.92 L161.15,207.90 L161.85,207.88 L162.55,207.85 L163.25,207.82 L163.94,207.79 L164.64,207.75 L165.34,207.71 L166.04,207.67 L166.73,207.63 L167.43,207.57 L168.13,207.52 L168.83,207.46 L169.52,207.40 L170.22,207.33 L170.92,207.25 L171.62,207.17 L172.32,207.08 L173.01,206.99 L173.71,206.88 L174.41,206.78 L175.11,206.66 L175.80,206.54 L176.50,206.40 L177.20,206.26 L177.90,206.11 L178.59,205.95 L179.29,205.79 L179.99,205.61 L180.69,205.42 L181.38,205.22 L182.08,205.01 L182.78,204.79 L183.48,204.56 L184.17,204.32 L184.87,204.06 L185.57,203.80 L186.27,203.52 L186.97,203.23 L187.66,202.93 L188.36,202.61 L189.06,202.29 L189.76,201.95 L190.45,201.60 L191.15,201.23 L191.85,200.86 L192.55,200.47 L193.24,200.07 L193.94,199.66 L194.64,199.24 L195.34,198.80 L196.03,198.36 L196.73,197.90 L197.43,197.43 L198.13,196.95 L198.82,196.47 L199.52,195.97 L200.22,195.47 L200.92,194.95 L201.62,194.43 L202.31,193.90 L203.01,193.36 L203.71,192.82 L204.41,192.27 L205.10,191.72 L205.80,191.16 L206.50,190.60 L207.20,190.04 L207.89,189.47 L208.59,188.91 L209.29,188.34 L209.99,187.77 L210.68,187.20 L211.38,186.64 L212.08,186.07 L212.78,185.51 L213.48,184.95 L214.17,184.40 L214.87,183.85 L215.57,183.30 L216.27,182.76 L216.96,182.23 L217.66,181.71 L218.36,181.19 L219.06,180.69 L219.75,180.19 L220.45,179.70 L221.15,179.22 L221.85,178.75 L222.54,178.30 L223.24,177.85 L223.94,177.42 L224.64,176.99 L225.33,176.58 L226.03,176.19 L226.73,175.80 L227.43,175.43 L228.13,175.07 L228.82,174.72 L229.52,174.39 L230.22,174.07 L230.92,173.76 L231.61,173.47 L232.31,173.18 L233.01,172.92 L233.71,172.66 L234.40,172.41 L235.10,172.18 L235.80,171.96 L236.50,171.75 L237.19,171.56 L237.89,171.37 L238.59,171.20 L239.29,171.03 L239.98,170.88 L240.68,170.73 L241.38,170.60 L242.08,170.47 L242.78,170.35 L243.47,170.25 L244.17,170.14 L244.87,170.05 L245.57,169.96 L246.26,169.88 L246.96,169.81 L247.66,169.74 L248.36,169.68 L249.05,169.63 L249.75,169.57 L250.45,169.53 L251.15,169.49 L251.84,169.45 L252.54,169.41 L253.24,169.38 L253.94,169.35 L254.63,169.33 L255.33,169.31 L256.03,169.29 L256.73,169.27 L257.43,169.25 L258.12,169.24 L258.82,169.23 L259.52,169.22 L260.22,169.21 L260.91,169.20 L261.61,169.19 L262.31,169.19 L263.01,169.18 L263.70,169.18 L264.40,169.17 L265.10,169.17 L265.80,169.17 L266.49,169.16 L267.19,169.16 L267.89,169.16 L268.59,169.16 L269.29,169.16 L269.98,169.15 L270.68,169.15 L271.38,169.15 L272.08,169.15 L272.77,169.15 L273.47,169.15 L274.17,169.15 L274.87,169.15 L275.56,169.15 L276.26,169.15 L276.96,169.15 L277.66,169.15 L278.35,169.15 L279.05,169.15 L279.75,169.15 L280.45,169.15 L281.14,169.15 L281.84,169.15 L282.54,169.15 L283.24,169.15 L283.94,169.15 L284.63,169.15 L285.33,169.15 L286.03,169.15 L286.73,169.15 L287.42,169.15 L288.12,169.15 L288.82,169.15 L289.52,169.15 L290.21,169.15 L290.91,169.15 L291.61,169.15 L292.31,169.15 L293.00,169.15 L293.70,169.15 L294.40,169.15 L295.10,169.15 L295.79,169.15 L296.49,169.15 L297.19,169.15 L297.89,169.15 L298.59,169.15 L299.28,169.15 L299.98,169.15 L300.68,169.15 L301.38,169.15 L302.07,169.15 L302.77,169.15 L303.47,169.15 L304.17,169.15 L304.86,169.15 L305.56,169.15 L306.26,169.15 L306.96,169.15 L307.65,169.15 L308.35,169.15 L309.05,169.15 L309.75,169.15 L310.44,169.15 L311.14,169.15 L311.84,169.15 L312.54,169.15 L313.24,169.15 L313.93,169.15 L314.63,169.15 L315.33,169.15 L316.03,169.15 L316.72,169.15 L317.42,169.15 L318.12,169.15 L318.82,169.15 L319.51,169.15 L320.21,169.15 L320.91,169.15 L321.61,169.15 L322.30,169.15 L323.00,169.15 L323.70,169.15 L324.40,169.15 L325.10,169.15 L325.79,169.15 L326.49,169.15 L327.19,169.15 L327.89,169.15 L328.58,169.15 L329.28,169.15 L329.98,169.15 L330.68,169.15 L331.37,169.15 L332.07,169.15 L332.77,169.15 L333.47,169.15 L334.16,169.15 L334.86,169.15 L335.56,169.15 L336.26,169.15 L336.95,169.15 L337.65,169.15 L338.35,169.15 L339.05,169.15 L339.75,169.15 L340.44,169.15 L341.14,169.15 L341.84,169.15 L342.54,169.15 L343.23,169.15 L343.93,169.15 L344.63,169.15 L345.33,169.15 L346.02,169.15 L346.72,169.15 L347.42,169.15 L348.12,169.15 L348.81,169.15 L349.51,169.15 L350.21,169.15 L350.91,169.15 L351.60,169.15 L352.30,169.15 L353.00,169.15" stroke="#00f" stroke-width="2.2" stroke-dasharray="4.5 4.5" stroke-dashoffset="0.5"/>
<path d="M73.95,227.56 L74.65,227.56 L75.35,227.56 L76.04,227.56 L76.74,227.56 L77.44,227.56 L78.14,227.56 L78.83,227.56 L79.53,227.56 L80.23,227.56 L80.93,227.56 L81.62,227.56 L82.32,227.56 L83.02,227.56 L83.72,227.56 L84.41,227.56 L85.11,227.56 L85.81,227.56 L86.51,227.56 L87.20,227.56 L87.90,227.56 L88.60,227.56 L89.30,227.56 L90.00,227.56 L90.69,227.56 L91.39,227.56 L92.09,227.56 L92.79,227.56 L93.48,227.56 L94.18,227.56 L94.88,227.56 L95.58,227.56 L96.27,227.56 L96.97,227.56 L97.67,227.56 L98.37,227.56 L99.06,227.56 L99.76,227.56 L100.46,227.56 L101.16,227.56 L101.86,227.56 L102.55,227.56 L103.25,227.56 L103.95,227.56 L104.65,227.56 L105.34,227.56 L106.04,227.56 L106.74,227.56 L107.44,227.56 L108.13,227.56 L108.83,227.56 L109.53,227.56 L110.23,227.56 L110.92,227.56 L111.62,227.56 L112.32,227.56 L113.02,227.56 L113.71,227.56 L114.41,227.56 L115.11,227.56 L115.81,227.56 L116.51,227.56 L117.20,227.56 L117.90,227.56 L118.60,227.56 L119.30,227.56 L119.99,227.56 L120.69,227.56 L121.39,227.56 L122.09,227.56 L122.78,227.56 L123.48,227.56 L124.18,227.56 L124.88,227.56 L125.57,227.56 L126.27,227.56 L126.97,227.56 L127.67,227.56 L128.36,227.55 L129.06,227.55 L129.76,227.55 L130.46,227.55 L131.16,227.55 L131.85,227.55 L132.55,227.54 L133.25,227.54 L133.95,227.54 L134.64,227.53 L135.34,227.53 L136.04,227.52 L136.74,227.52 L137.43,227.51 L138.13,227.50 L138.83,227.50 L139.53,227.49 L140.22,227.48 L140.92,227.46 L141.62,227.45 L142.32,227.44 L143.01,227.42 L143.71,227.40 L144.41,227.38 L145.11,227.36 L145.81,227.33 L146.50,227.31 L147.20,227.27 L147.90,227.24 L148.60,227.20 L149.29,227.16 L149.99,227.12 L150.69,227.07 L151.39,227.02 L152.08,226.96 L152.78,226.90 L153.48,226.83 L154.18,226.76 L154.87,226.68 L155.57,226.60 L156.27,226.51 L156.97,226.41 L157.66,226.30 L158.36,226.19 L159.06,226.07 L159.76,225.94 L160.46,225.80 L161.15,225.66 L161.85,225.50 L162.55,225.34 L163.25,225.17 L163.94,224.98 L164.64,224.79 L165.34,224.58 L166.04,224.36 L166.73,224.14 L167.43,223.90 L168.13,223.65 L168.83,223.38 L169.52,223.11 L170.22,222.82 L170.92,222.52 L171.62,222.20 L172.32,221.88 L173.01,221.53 L173.71,221.18 L174.41,220.81 L175.11,220.43 L175.80,220.04 L176.50,219.63 L177.20,219.21 L177.90,218.77 L178.59,218.32 L179.29,217.86 L179.99,217.39 L180.69,216.90 L181.38,216.39 L182.08,215.88 L182.78,215.35 L183.48,214.81 L184.17,214.26 L184.87,213.70 L185.57,213.12 L186.27,212.53 L186.97,211.93 L187.66,211.33 L188.36,210.71 L189.06,210.08 L189.76,209.44 L190.45,208.79 L191.15,208.14 L191.85,207.47 L192.55,206.80 L193.24,206.12 L193.94,205.43 L194.64,204.74 L195.34,204.05 L196.03,203.34 L196.73,202.64 L197.43,201.93 L198.13,201.21 L198.82,200.49 L199.52,199.77 L200.22,199.05 L200.92,198.33 L201.62,197.61 L202.31,196.89 L203.01,196.17 L203.71,195.45 L204.41,194.73 L205.10,194.01 L205.80,193.30 L206.50,192.59 L207.20,191.89 L207.89,191.19 L208.59,190.49 L209.29,189.80 L209.99,189.12 L210.68,188.45 L211.38,187.78 L212.08,187.12 L212.78,186.47 L213.48,185.83 L214.17,185.20 L214.87,184.58 L215.57,183.97 L216.27,183.37 L216.96,182.78 L217.66,182.21 L218.36,181.64 L219.06,181.09 L219.75,180.55 L220.45,180.02 L221.15,179.51 L221.85,179.01 L222.54,178.53 L223.24,178.06 L223.94,177.60 L224.64,177.15 L225.33,176.73 L226.03,176.31 L226.73,175.91 L227.43,175.52 L228.13,175.15 L228.82,174.79 L229.52,174.45 L230.22,174.12 L230.92,173.81 L231.61,173.51 L232.31,173.22 L233.01,172.94 L233.71,172.68 L234.40,172.44 L235.10,172.20 L235.80,171.98 L236.50,171.77 L237.19,171.57 L237.89,171.38 L238.59,171.20 L239.29,171.04 L239.98,170.88 L240.68,170.74 L241.38,170.60 L242.08,170.47 L242.78,170.36 L243.47,170.25 L244.17,170.15 L244.87,170.05 L245.57,169.97 L246.26,169.89 L246.96,169.81 L247.66,169.74 L248.36,169.68 L249.05,169.63 L249.75,169.58 L250.45,169.53 L251.15,169.49 L251.84,169.45 L252.54,169.41 L253.24,169.38 L253.94,169.35 L254.63,169.33 L255.33,169.31 L256.03,169.29 L256.73,169.27 L257.43,169.25 L258.12,169.24 L258.82,169.23 L259.52,169.22 L260.22,169.21 L260.91,169.20 L261.61,169.19 L262.31,169.19 L263.01,169.18 L263.70,169.18 L264.40,169.17 L265.10,169.17 L265.80,169.17 L266.49,169.16 L267.19,169.16 L267.89,169.16 L268.59,169.16 L269.29,169.16 L269.98,169.15 L270.68,169.15 L271.38,169.15 L272.08,169.15 L272.77,169.15 L273.47,169.15 L274.17,169.15 L274.87,169.15 L275.56,169.15 L276.26,169.15 L276.96,169.15 L277.66,169.15 L278.35,169.15 L279.05,169.15 L279.75,169.15 L280.45,169.15 L281.14,169.15 L281.84,169.15 L282.54,169.15 L283.24,169.15 L283.94,169.15 L284.63,169.15 L285.33,169.15 L286.03,169.15 L286.73,169.15 L287.42,169.15 L288.12,169.15 L288.82,169.15 L289.52,169.15 L290.21,169.15 L290.91,169.15 L291.61,169.15 L292.31,169.15 L293.00,169.15 L293.70,169.15 L294.40,169.15 L295.10,169.15 L295.79,169.15 L296.49,169.15 L297.19,169.15 L297.89,169.15 L298.59,169.15 L299.28,169.15 L299.98,169.15 L300.68,169.15 L301.38,169.15 L302.07,169.15 L302.77,169.15 L303.47,169.15 L304.17,169.15 L304.86,169.15 L305.56,169.15 L306.26,169.15 L306.96,169.15 L307.65,169.15 L308.35,169.15 L309.05,169.15 L309.75,169.15 L310.44,169.15 L311.14,169.15 L311.84,169.15 L312.54,169.15 L313.24,169.15 L313.93,169.15 L314.63,169.15 L315.33,169.15 L316.03,169.15 L316.72,169.15 L317.42,169.15 L318.12,169.15 L318.82,169.15 L319.51,169.15 L320.21,169.15 L320.91,169.15 L321.61,169.15 L322.30,169.15 L323.00,169.15 L323.70,169.15 L324.40,169.15 L325.10,169.15 L325.79,169.15 L326.49,169.15 L327.19,169.15 L327.89,169.15 L328.58,169.15 L329.28,169.15 L329.98,169.15 L330.68,169.15 L331.37,169.15 L332.07,169.15 L332.77,169.15 L333.47,169.15 L334.16,169.15 L334.86,169.15 L335.56,169.15 L336.26,169.15 L336.95,169.15 L337.65,169.15 L338.35,169.15 L339.05,169.15 L339.75,169.15 L340.44,169.15 L341.14,169.15 L341.84,169.15 L342.54,169.15 L343.23,169.15 L343.93,169.15 L344.63,169.15 L345.33,169.15 L346.02,169.15 L346.72,169.15 L347.42,169.15 L348.12,169.15 L348.81,169.15 L349.51,169.15 L350.21,169.15 L350.91,169.15 L351.60,169.15 L352.30,169.15 L353.00,169.15" stroke="#f00" stroke-width="2.2" stroke-dasharray="2.2 2.27" stroke-dashoffset="0.5"/>
<path d="M73.95,256.76 L74.65,256.75 L75.35,256.75 L76.04,256.75 L76.74,256.75 L77.44,256.74 L78.14,256.74 L78.83,256.74 L79.53,256.73 L80.23,256.73 L80.93,256.72 L81.62,256.72 L82.32,256.71 L83.02,256.70 L83.72,256.69 L84.41,256.68 L85.11,256.67 L85.81,256.65 L86.51,256.64 L87.20,256.62 L87.90,256.60 L88.60,256.58 L89.30,256.56 L90.00,256.53 L90.69,256.50 L91.39,256.47 L92.09,256.44 L92.79,256.40 L93.48,256.36 L94.18,256.31 L94.88,256.26 L95.58,256.21 L96.27,256.15 L96.97,256.09 L97.67,256.02 L98.37,255.94 L99.06,255.86 L99.76,255.78 L100.46,255.68 L101.16,255.58 L101.86,255.48 L102.55,255.36 L103.25,255.24 L103.95,255.11 L104.65,254.97 L105.34,254.82 L106.04,254.66 L106.74,254.50 L107.44,254.32 L108.13,254.13 L108.83,253.94 L109.53,253.73 L110.23,253.51 L110.92,253.28 L111.62,253.03 L112.32,252.78 L113.02,252.51 L113.71,252.23 L114.41,251.94 L115.11,251.64 L115.81,251.32 L116.51,250.99 L117.20,250.64 L117.90,250.29 L118.60,249.91 L119.30,249.53 L119.99,249.13 L120.69,248.72 L121.39,248.29 L122.09,247.85 L122.78,247.40 L123.48,246.94 L124.18,246.46 L124.88,245.96 L125.57,245.46 L126.27,244.94 L126.97,244.41 L127.67,243.86 L128.36,243.31 L129.06,242.74 L129.76,242.16 L130.46,241.57 L131.16,240.96 L131.85,240.35 L132.55,239.72 L133.25,239.09 L133.95,238.44 L134.64,237.79 L135.34,237.13 L136.04,236.46 L136.74,235.78 L137.43,235.09 L138.13,234.40 L138.83,233.69 L139.53,232.99 L140.22,232.27 L140.92,231.55 L141.62,230.83 L142.32,230.10 L143.01,229.37 L143.71,228.63 L144.41,227.89 L145.11,227.14 L145.81,226.40 L146.50,225.65 L147.20,224.90 L147.90,224.15 L148.60,223.40 L149.29,222.64 L149.99,221.89 L150.69,221.14 L151.39,220.39 L152.08,219.63 L152.78,218.89 L153.48,218.14 L154.18,217.39 L154.87,216.65 L155.57,215.91 L156.27,215.17 L156.97,214.44 L157.66,213.71 L158.36,212.98 L159.06,212.25 L159.76,211.54 L160.46,210.82 L161.15,210.11 L161.85,209.41 L162.55,208.71 L163.25,208.01 L163.94,207.32 L164.64,206.64 L165.34,205.96 L166.04,205.29 L166.73,204.62 L167.43,203.96 L168.13,203.31 L168.83,202.66 L169.52,202.02 L170.22,201.39 L170.92,200.76 L171.62,200.14 L172.32,199.52 L173.01,198.91 L173.71,198.31 L174.41,197.72 L175.11,197.13 L175.80,196.55 L176.50,195.98 L177.20,195.41 L177.90,194.85 L178.59,194.30 L179.29,193.75 L179.99,193.21 L180.69,192.68 L181.38,192.15 L182.08,191.64 L182.78,191.12 L183.48,190.62 L184.17,190.12 L184.87,189.63 L185.57,189.15 L186.27,188.67 L186.97,188.20 L187.66,187.74 L188.36,187.28 L189.06,186.83 L189.76,186.38 L190.45,185.95 L191.15,185.51 L191.85,185.09 L192.55,184.67 L193.24,184.26 L193.94,183.85 L194.64,183.45 L195.34,183.06 L196.03,182.67 L196.73,182.29 L197.43,181.92 L198.13,181.55 L198.82,181.18 L199.52,180.83 L200.22,180.48 L200.92,180.13 L201.62,179.79 L202.31,179.46 L203.01,179.13 L203.71,178.81 L204.41,178.49 L205.10,178.18 L205.80,177.88 L206.50,177.58 L207.20,177.28 L207.89,177.00 L208.59,176.72 L209.29,176.44 L209.99,176.17 L210.68,175.91 L211.38,175.65 L212.08,175.39 L212.78,175.15 L213.48,174.90 L214.17,174.67 L214.87,174.44 L215.57,174.21 L216.27,173.99 L216.96,173.78 L217.66,173.57 L218.36,173.37 L219.06,173.18 L219.75,172.98 L220.45,172.80 L221.15,172.62 L221.85,172.45 L222.54,172.28 L223.24,172.12 L223.94,171.96 L224.64,171.81 L225.33,171.66 L226.03,171.52 L226.73,171.38 L227.43,171.25 L228.13,171.13 L228.82,171.01 L229.52,170.89 L230.22,170.78 L230.92,170.68 L231.61,170.58 L232.31,170.48 L233.01,170.39 L233.71,170.31 L234.40,170.22 L235.10,170.15 L235.80,170.07 L236.50,170.00 L237.19,169.94 L237.89,169.88 L238.59,169.82 L239.29,169.77 L239.98,169.71 L240.68,169.67 L241.38,169.62 L242.08,169.58 L242.78,169.54 L243.47,169.51 L244.17,169.47 L244.87,169.44 L245.57,169.42 L246.26,169.39 L246.96,169.37 L247.66,169.34 L248.36,169.32 L249.05,169.30 L249.75,169.29 L250.45,169.27 L251.15,169.26 L251.84,169.25 L252.54,169.24 L253.24,169.23 L253.94,169.22 L254.63,169.21 L255.33,169.20 L256.03,169.19 L256.73,169.19 L257.43,169.18 L258.12,169.18 L258.82,169.18 L259.52,169.17 L260.22,169.17 L260.91,169.17 L261.61,169.16 L262.31,169.16 L263.01,169.16 L263.70,169.16 L264.40,169.16 L265.10,169.16 L265.80,169.15 L266.49,169.15 L267.19,169.15 L267.89,169.15 L268.59,169.15 L269.29,169.15 L269.98,169.15 L270.68,169.15 L271.38,169.15 L272.08,169.15 L272.77,169.15 L273.47,169.15 L274.17,169.15 L274.87,169.15 L275.56,169.15 L276.26,169.15 L276.96,169.15 L277.66,169.15 L278.35,169.15 L279.05,169.15 L279.75,169.15 L280.45,169.15 L281.14,169.15 L281.84,169.15 L282.54,169.15 L283.24,169.15 L283.94,169.15 L284.63,169.15 L285.33,169.15 L286.03,169.15 L286.73,169.15 L287.42,169.15 L288.12,169.15 L288.82,169.15 L289.52,169.15 L290.21,169.15 L290.91,169.15 L291.61,169.15 L292.31,169.15 L293.00,169.15 L293.70,169.15 L294.40,169.15 L295.10,169.15 L295.79,169.15 L296.49,169.15 L297.19,169.15 L297.89,169.15 L298.59,169.15 L299.28,169.15 L299.98,169.15 L300.68,169.15 L301.38,169.15 L302.07,169.15 L302.77,169.15 L303.47,169.15 L304.17,169.15 L304.86,169.15 L305.56,169.15 L306.26,169.15 L306.96,169.15 L307.65,169.15 L308.35,169.15 L309.05,169.15 L309.75,169.15 L310.44,169.15 L311.14,169.15 L311.84,169.15 L312.54,169.15 L313.24,169.15 L313.93,169.15 L314.63,169.15 L315.33,169.15 L316.03,169.15 L316.72,169.15 L317.42,169.15 L318.12,169.15 L318.82,169.15 L319.51,169.15 L320.21,169.15 L320.91,169.15 L321.61,169.15 L322.30,169.15 L323.00,169.15 L323.70,169.15 L324.40,169.15 L325.10,169.15 L325.79,169.15 L326.49,169.15 L327.19,169.15 L327.89,169.15 L328.58,169.15 L329.28,169.15 L329.98,169.15 L330.68,169.15 L331.37,169.15 L332.07,169.15 L332.77,169.15 L333.47,169.15 L334.16,169.15 L334.86,169.15 L335.56,169.15 L336.26,169.15 L336.95,169.15 L337.65,169.15 L338.35,169.15 L339.05,169.15 L339.75,169.15 L340.44,169.15 L341.14,169.15 L341.84,169.15 L342.54,169.15 L343.23,169.15 L343.93,169.15 L344.63,169.15 L345.33,169.15 L346.02,169.15 L346.72,169.15 L347.42,169.15 L348.12,169.15 L348.81,169.15 L349.51,169.15 L350.21,169.15 L350.91,169.15 L351.60,169.15 L352.30,169.15 L353.00,169.15" stroke="#000" stroke-width="2.2" stroke-dasharray="7.6 2.5 2.2 2.85" stroke-dashoffset="0.5"/>
<path d="M73.95,169.15 L353.0,169.15" stroke="#000" stroke-width="1.7"/>
</g>
<rect x="73.95" y="71.8" width="279.05" height="194.7" fill="none" stroke="#000" stroke-width="1.7"/>
<path d="M73.95,266.5 v5.7 M73.95,71.8 v5.7 M101.95,266.5 v3.3 M101.95,71.8 v3.3 M118.33,266.5 v3.3 M118.33,71.8 v3.3 M129.95,266.5 v3.3 M129.95,71.8 v3.3 M138.97,266.5 v3.3 M138.97,71.8 v3.3 M146.33,266.5 v3.3 M146.33,71.8 v3.3 M152.56,266.5 v3.3 M152.56,71.8 v3.3 M157.95,266.5 v3.3 M157.95,71.8 v3.3 M162.71,266.5 v3.3 M162.71,71.8 v3.3 M166.97,266.5 v5.7 M166.97,71.8 v5.7 M194.97,266.5 v3.3 M194.97,71.8 v3.3 M211.35,266.5 v3.3 M211.35,71.8 v3.3 M222.97,266.5 v3.3 M222.97,71.8 v3.3 M231.98,266.5 v3.3 M231.98,71.8 v3.3 M239.35,266.5 v3.3 M239.35,71.8 v3.3 M245.57,266.5 v3.3 M245.57,71.8 v3.3 M250.97,266.5 v3.3 M250.97,71.8 v3.3 M255.73,266.5 v3.3 M255.73,71.8 v3.3 M259.98,266.5 v5.7 M259.98,71.8 v5.7 M287.98,266.5 v3.3 M287.98,71.8 v3.3 M304.36,266.5 v3.3 M304.36,71.8 v3.3 M315.98,266.5 v3.3 M315.98,71.8 v3.3 M325.00,266.5 v3.3 M325.00,71.8 v3.3 M332.36,266.5 v3.3 M332.36,71.8 v3.3 M338.59,266.5 v3.3 M338.59,71.8 v3.3 M343.99,266.5 v3.3 M343.99,71.8 v3.3 M348.74,266.5 v3.3 M348.74,71.8 v3.3 M353.00,266.5 v5.7 M353.00,71.8 v5.7 M353.00,266.5 v5.7 M353.00,71.8 v5.7 M73.95,266.50 h-3.3 M353.0,266.50 h-3.3 M73.95,247.03 h-5.7 M353.0,247.03 h-5.7 M73.95,227.56 h-3.3 M353.0,227.56 h-3.3 M73.95,208.09 h-5.7 M353.0,208.09 h-5.7 M73.95,188.62 h-3.3 M353.0,188.62 h-3.3 M73.95,169.15 h-5.7 M353.0,169.15 h-5.7 M73.95,149.68 h-3.3 M353.0,149.68 h-3.3 M73.95,130.21 h-5.7 M353.0,130.21 h-5.7 M73.95,110.74 h-3.3 M353.0,110.74 h-3.3 M73.95,91.27 h-5.7 M353.0,91.27 h-5.7 M73.95,71.80 h-3.3 M353.0,71.80 h-3.3" stroke="#000" stroke-width="1.7" fill="none"/>
<text x="65" y="95.4" font-size="13.8" text-anchor="end">0.4</text>
<text x="65" y="134.3" font-size="13.8" text-anchor="end">0.2</text>
<text x="65" y="173.2" font-size="13.8" text-anchor="end">0.0</text>
<text x="65" y="212.2" font-size="13.8" text-anchor="end">-0.2</text>
<text x="65" y="251.1" font-size="13.8" text-anchor="end">-0.4</text>
<text x="74.0" y="286.2" font-size="13.8" text-anchor="middle">0.01</text>
<text x="167.0" y="286.2" font-size="13.8" text-anchor="middle">0.1</text>
<text x="260.0" y="286.2" font-size="13.8" text-anchor="middle">1</text>
<text x="353.0" y="286.2" font-size="13.8" text-anchor="middle">10</text>
<text x="200.5" y="305.4" font-size="16">T/T<tspan font-size="9" dy="-7">*</tspan></text>
<g transform="translate(29.4,180.6) rotate(-90)"><text y="0" font-size="15.5"><tspan x="-0.4">ω</tspan><tspan x="11.2" font-size="18">/</tspan><tspan x="16.3">ω</tspan><tspan x="27.6" dy="-6.6" font-size="13">*</tspan></text><path d="M0.4,-12.5 h11" stroke="#000" stroke-width="1.5"/></g>
<text x="9.8" y="71.6" font-size="20">(a)</text>
<path d="M262.1,96.3 H295.4" stroke="#000" stroke-width="2.1" fill="none"/>
<text x="302.6" y="100.8" font-size="13.8">-0.45</text>
<path d="M262.1,113.3 H295.4" stroke="#f00" stroke-width="2.1" fill="none" stroke-dasharray="10.8 9.3"/>
<text x="302.6" y="117.8" font-size="13.8">-0.3</text>
<path d="M262.1,130.3 H295.4" stroke="#00f" stroke-width="2.1" fill="none" stroke-dasharray="2.3 9.0"/>
<text x="302.6" y="134.8" font-size="13.8">-0.2</text>
<path d="M262.1,147.5 H295.4" stroke="#0f0" stroke-width="2.1" fill="none" stroke-dasharray="12 4.4 2.4 5.0"/>
<text x="302.6" y="152.0" font-size="13.8">-0.1</text>
<path d="M263.05,192.1 H296.2" stroke="#0f0" stroke-width="2.1" fill="none" stroke-dasharray="8.6 5.05 2.3 4.55 2.4 4.85"/>
<text x="298.8" y="196.5" font-size="13.8">0.1</text>
<path d="M263.05,209.3 H296.2" stroke="#00f" stroke-width="2.1" fill="none" stroke-dasharray="4.9 4.2"/>
<text x="298.8" y="213.7" font-size="13.8">0.2</text>
<path d="M263.05,226.7 H292.2" stroke="#f00" stroke-width="2.1" fill="none" stroke-dasharray="2.2 2.26"/>
<text x="298.8" y="231.1" font-size="13.8">0.3</text>
<path d="M263.05,243.4 H296.2" stroke="#000" stroke-width="2.1" fill="none" stroke-dasharray="7.6 2.5 2.2 2.85"/>
<text x="298.8" y="247.8" font-size="13.8">0.45</text>
<clipPath id="cb"><rect x="66.05" y="322.8" width="261.95" height="194.85999999999996"/></clipPath>
<g clip-path="url(#cb)" fill="none">
<path d="M66.05,316.54 L328.00,413.97" stroke="#000" stroke-width="2.2" stroke-dasharray="10.6 9.6" stroke-dashoffset="3.4"/>
<path d="M66.05,419.22 L328.00,516.65" stroke="#f00" stroke-width="2.2"/>
<path d="M66.05,429.72 L328.00,527.15" stroke="#00f" stroke-width="2.1" stroke-dasharray="11.6 4.9 2.3 5.0" stroke-dashoffset="2.8"/>
</g>
<rect x="66.05" y="322.8" width="261.95" height="194.85999999999996" fill="none" stroke="#000" stroke-width="1.7"/>
<path d="M66.05,517.66 v5.7 M66.05,322.8 v5.7 M105.48,517.66 v3.3 M105.48,322.8 v3.3 M128.54,517.66 v3.3 M128.54,322.8 v3.3 M144.90,517.66 v3.3 M144.90,322.8 v3.3 M157.60,517.66 v3.3 M157.60,322.8 v3.3 M167.97,517.66 v3.3 M167.97,322.8 v3.3 M176.74,517.66 v3.3 M176.74,322.8 v3.3 M184.33,517.66 v3.3 M184.33,322.8 v3.3 M191.03,517.66 v3.3 M191.03,322.8 v3.3 M197.02,517.66 v5.7 M197.02,322.8 v5.7 M236.45,517.66 v3.3 M236.45,322.8 v3.3 M259.52,517.66 v3.3 M259.52,322.8 v3.3 M275.88,517.66 v3.3 M275.88,322.8 v3.3 M288.57,517.66 v3.3 M288.57,322.8 v3.3 M298.94,517.66 v3.3 M298.94,322.8 v3.3 M307.71,517.66 v3.3 M307.71,322.8 v3.3 M315.31,517.66 v3.3 M315.31,322.8 v3.3 M322.01,517.66 v3.3 M322.01,322.8 v3.3 M328.00,517.66 v5.7 M328.00,322.8 v5.7 M66.05,517.66 h-5.7 M328.0,517.66 h-5.7 M66.05,510.33 h-3.3 M328.0,510.33 h-3.3 M66.05,506.04 h-3.3 M328.0,506.04 h-3.3 M66.05,503.00 h-3.3 M328.0,503.00 h-3.3 M66.05,500.63 h-3.3 M328.0,500.63 h-3.3 M66.05,498.71 h-3.3 M328.0,498.71 h-3.3 M66.05,497.08 h-3.3 M328.0,497.08 h-3.3 M66.05,495.66 h-3.3 M328.0,495.66 h-3.3 M66.05,494.42 h-3.3 M328.0,494.42 h-3.3 M66.05,493.30 h-5.7 M328.0,493.30 h-5.7 M66.05,485.97 h-3.3 M328.0,485.97 h-3.3 M66.05,481.68 h-3.3 M328.0,481.68 h-3.3 M66.05,478.64 h-3.3 M328.0,478.64 h-3.3 M66.05,476.28 h-3.3 M328.0,476.28 h-3.3 M66.05,474.35 h-3.3 M328.0,474.35 h-3.3 M66.05,472.72 h-3.3 M328.0,472.72 h-3.3 M66.05,471.31 h-3.3 M328.0,471.31 h-3.3 M66.05,470.06 h-3.3 M328.0,470.06 h-3.3 M66.05,468.94 h-5.7 M328.0,468.94 h-5.7 M66.05,461.61 h-3.3 M328.0,461.61 h-3.3 M66.05,457.32 h-3.3 M328.0,457.32 h-3.3 M66.05,454.28 h-3.3 M328.0,454.28 h-3.3 M66.05,451.92 h-3.3 M328.0,451.92 h-3.3 M66.05,449.99 h-3.3 M328.0,449.99 h-3.3 M66.05,448.36 h-3.3 M328.0,448.36 h-3.3 M66.05,446.95 h-3.3 M328.0,446.95 h-3.3 M66.05,445.70 h-3.3 M328.0,445.70 h-3.3 M66.05,444.59 h-5.7 M328.0,444.59 h-5.7 M66.05,437.26 h-3.3 M328.0,437.26 h-3.3 M66.05,432.97 h-3.3 M328.0,432.97 h-3.3 M66.05,429.92 h-3.3 M328.0,429.92 h-3.3 M66.05,427.56 h-3.3 M328.0,427.56 h-3.3 M66.05,425.63 h-3.3 M328.0,425.63 h-3.3 M66.05,424.00 h-3.3 M328.0,424.00 h-3.3 M66.05,422.59 h-3.3 M328.0,422.59 h-3.3 M66.05,421.34 h-3.3 M328.0,421.34 h-3.3 M66.05,420.23 h-5.7 M328.0,420.23 h-5.7 M66.05,412.90 h-3.3 M328.0,412.90 h-3.3 M66.05,408.61 h-3.3 M328.0,408.61 h-3.3 M66.05,405.57 h-3.3 M328.0,405.57 h-3.3 M66.05,403.20 h-3.3 M328.0,403.20 h-3.3 M66.05,401.28 h-3.3 M328.0,401.28 h-3.3 M66.05,399.65 h-3.3 M328.0,399.65 h-3.3 M66.05,398.23 h-3.3 M328.0,398.23 h-3.3 M66.05,396.99 h-3.3 M328.0,396.99 h-3.3 M66.05,395.87 h-5.7 M328.0,395.87 h-5.7 M66.05,388.54 h-3.3 M328.0,388.54 h-3.3 M66.05,384.25 h-3.3 M328.0,384.25 h-3.3 M66.05,381.21 h-3.3 M328.0,381.21 h-3.3 M66.05,378.85 h-3.3 M328.0,378.85 h-3.3 M66.05,376.92 h-3.3 M328.0,376.92 h-3.3 M66.05,375.29 h-3.3 M328.0,375.29 h-3.3 M66.05,373.88 h-3.3 M328.0,373.88 h-3.3 M66.05,372.63 h-3.3 M328.0,372.63 h-3.3 M66.05,371.51 h-5.7 M328.0,371.51 h-5.7 M66.05,364.18 h-3.3 M328.0,364.18 h-3.3 M66.05,359.89 h-3.3 M328.0,359.89 h-3.3 M66.05,356.85 h-3.3 M328.0,356.85 h-3.3 M66.05,354.49 h-3.3 M328.0,354.49 h-3.3 M66.05,352.56 h-3.3 M328.0,352.56 h-3.3 M66.05,350.93 h-3.3 M328.0,350.93 h-3.3 M66.05,349.52 h-3.3 M328.0,349.52 h-3.3 M66.05,348.27 h-3.3 M328.0,348.27 h-3.3 M66.05,347.16 h-5.7 M328.0,347.16 h-5.7 M66.05,339.83 h-3.3 M328.0,339.83 h-3.3 M66.05,335.54 h-3.3 M328.0,335.54 h-3.3 M66.05,332.49 h-3.3 M328.0,332.49 h-3.3 M66.05,330.13 h-3.3 M328.0,330.13 h-3.3 M66.05,328.20 h-3.3 M328.0,328.20 h-3.3 M66.05,326.57 h-3.3 M328.0,326.57 h-3.3 M66.05,325.16 h-3.3 M328.0,325.16 h-3.3 M66.05,323.91 h-3.3 M328.0,323.91 h-3.3 M66.05,322.80 h-5.7 M328.0,322.80 h-5.7" stroke="#000" stroke-width="1.6" fill="none"/>
<text x="34.4" y="328.2" font-size="13.8">10<tspan font-size="8.5" dy="-7.0">-1</tspan></text>
<text x="34.4" y="376.9" font-size="13.8">10<tspan font-size="8.5" dy="-7.0">-3</tspan></text>
<text x="34.4" y="425.6" font-size="13.8">10<tspan font-size="8.5" dy="-7.0">-5</tspan></text>
<text x="34.4" y="474.3" font-size="13.8">10<tspan font-size="8.5" dy="-7.0">-7</tspan></text>
<text x="34.4" y="523.1" font-size="13.8">10<tspan font-size="8.5" dy="-7.0">-9</tspan></text>
<text x="333.9" y="328.3" font-size="13.8">2.6x10<tspan font-size="9" dy="-7.4">8</tspan></text>
<text x="333.9" y="377.0" font-size="13.8">2.6x10<tspan font-size="9" dy="-7.4">6</tspan></text>
<text x="333.9" y="425.7" font-size="13.8">2.6x10<tspan font-size="9" dy="-7.4">4</tspan></text>
<text x="333.9" y="474.4" font-size="13.8">2.6x10<tspan font-size="9" dy="-7.4">2</tspan></text>
<text x="333.9" y="523.2" font-size="13.8">2.6x10<tspan font-size="9" dy="-7.4">0</tspan></text>
<text x="65.3" y="537" font-size="13.8" text-anchor="middle">1</text>
<text x="197.3" y="537" font-size="13.8" text-anchor="middle">10</text>
<text x="328.3" y="537" font-size="13.8" text-anchor="middle">100</text>
<text x="174" y="553.2" font-size="16">d (μm)</text>
<text x="9.2" y="320.8" font-size="20">(b)</text>
<g transform="translate(29.2,439.6) rotate(-90)"><text font-size="17.5">T<tspan font-size="14" dy="-6">*</tspan><tspan x="21.2" dy="6" font-size="18.3">(K)</tspan></text></g>
<g transform="translate(400.4,453.8) rotate(-90)"><text font-size="16"><tspan x="-0.1">ω</tspan><tspan x="12.2" font-size="13" dy="-5.8">*</tspan><tspan x="21.4" dy="5.8" font-size="18.6">(rad/s)</tspan></text></g>
<path d="M75.2,361 H111" stroke="#000" stroke-width="2" stroke-dasharray="10.5 9.6" fill="none"/>
<path d="M75.2,382 H111" stroke="#f00" stroke-width="2" fill="none"/>
<path d="M75.2,402.7 H111" stroke="#00f" stroke-width="2" stroke-dasharray="12 3.8 3 4.2" fill="none"/>
<text x="114.3" y="366.7" font-size="15">e<tspan font-size="9" dy="-7">-</tspan></text>
<text x="114.5" y="386.8" font-size="15"><tspan font-size="9" dy="-7">9</tspan><tspan dy="7">Be</tspan><tspan font-size="9" dy="-7">+</tspan></text>
<text x="114.5" y="407.8" font-size="15"><tspan font-size="9" dy="-7">24</tspan><tspan dy="7">Mg</tspan><tspan font-size="9" dy="-7">+</tspan></text>
</svg></body></html>
